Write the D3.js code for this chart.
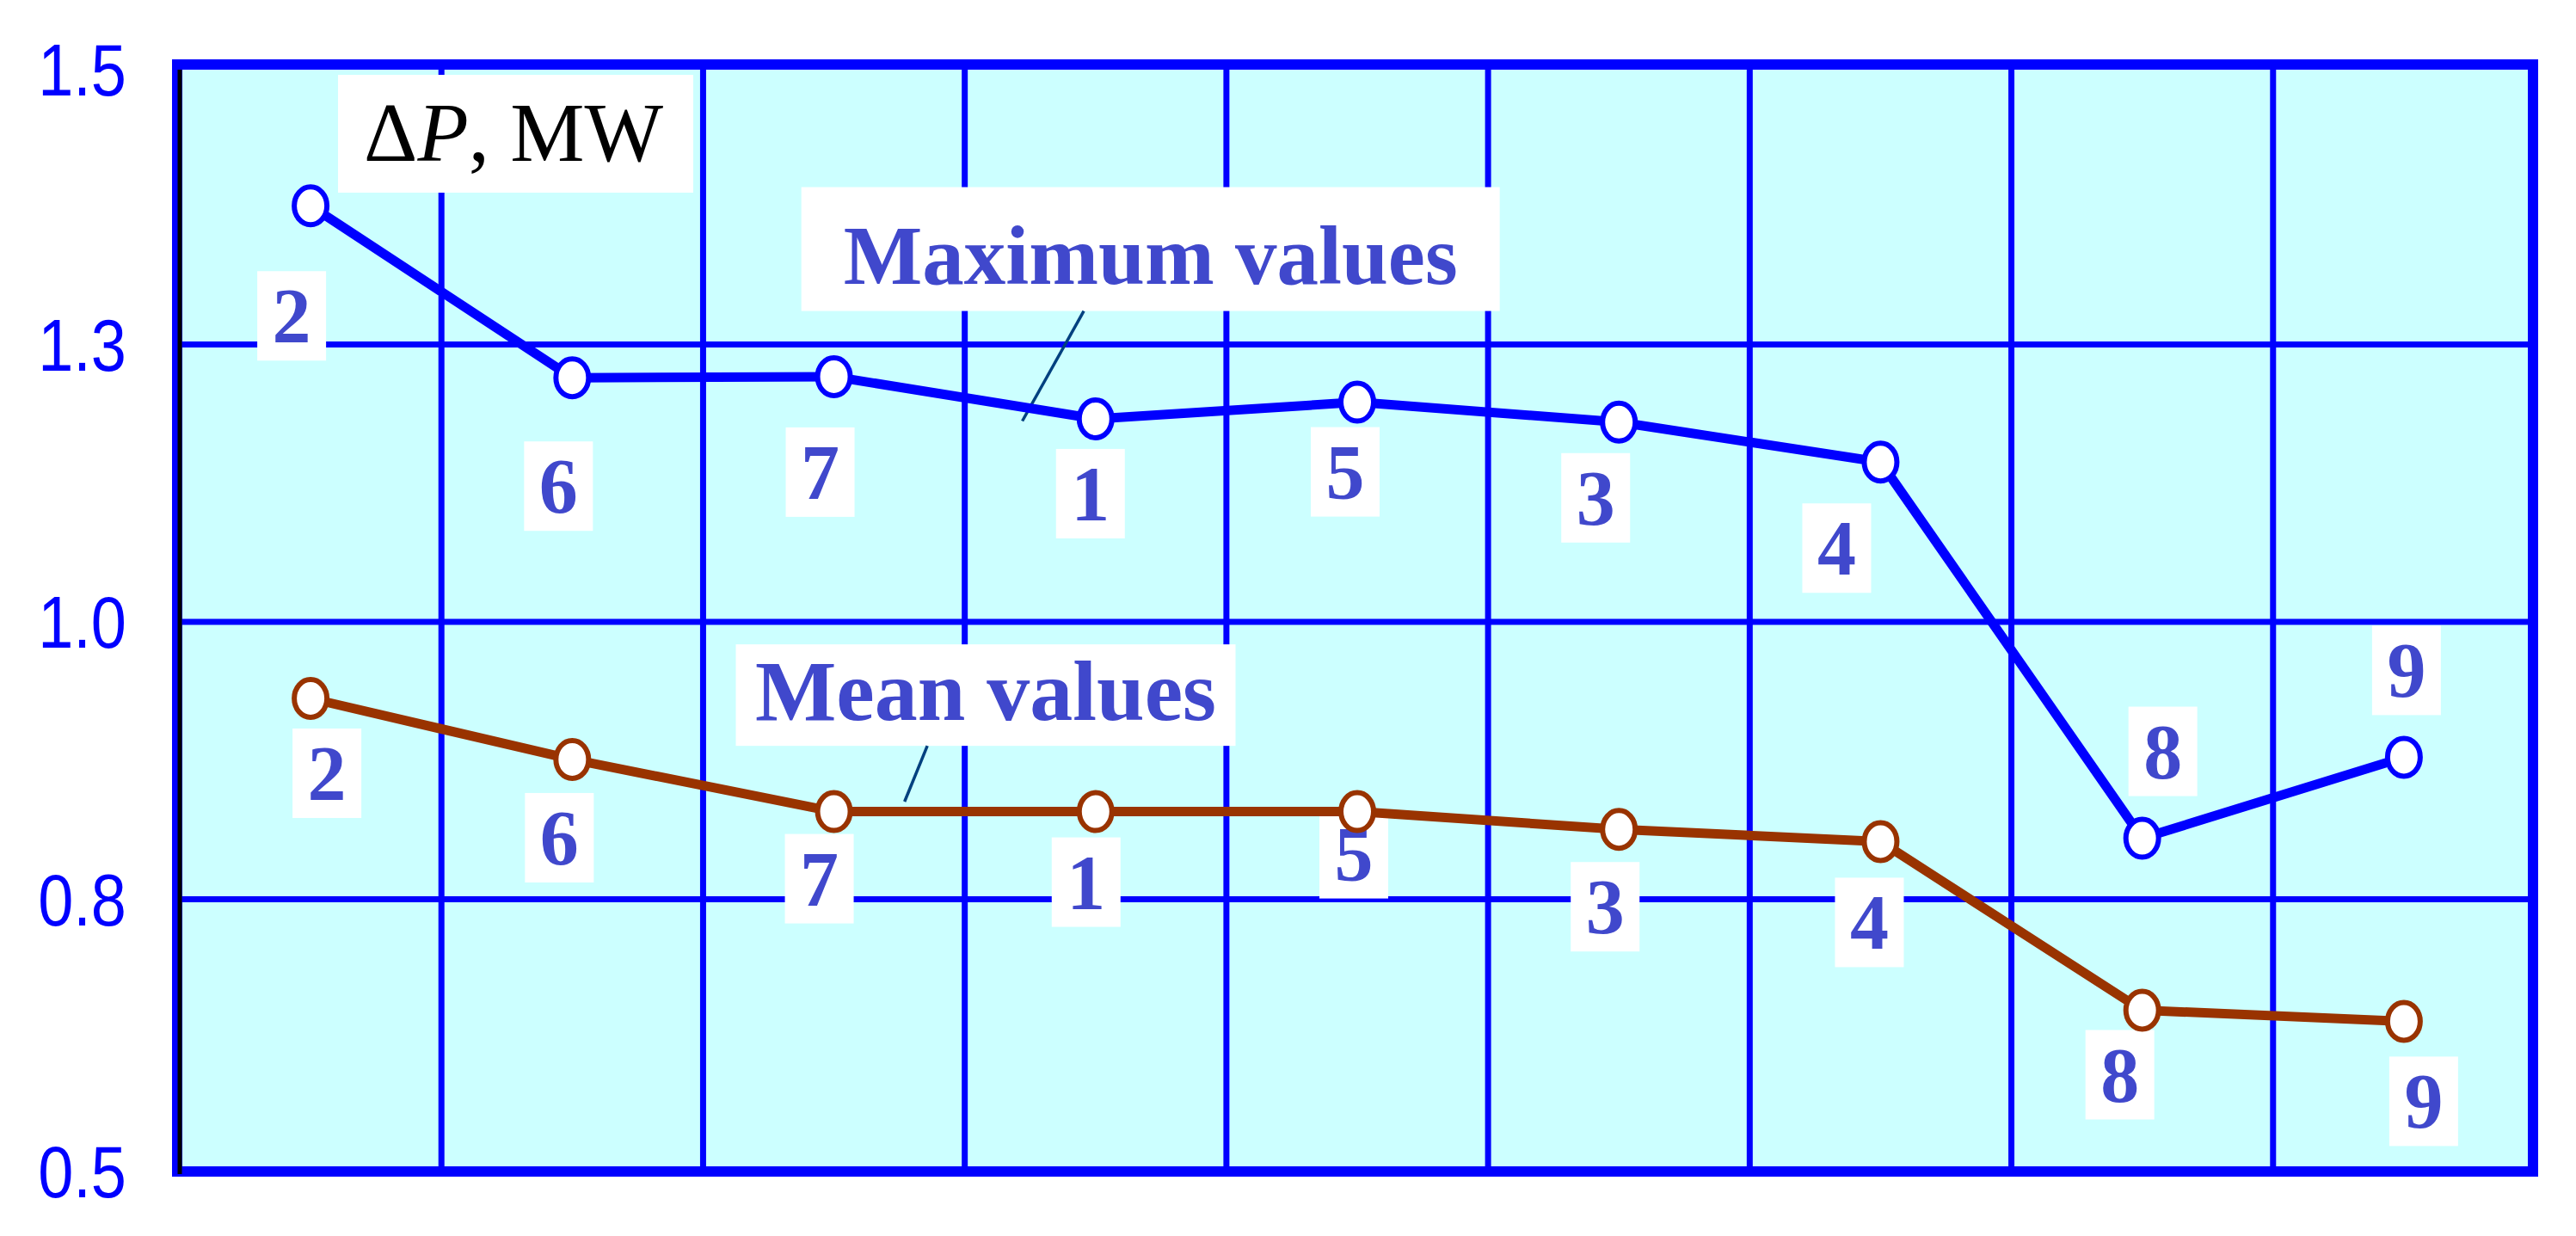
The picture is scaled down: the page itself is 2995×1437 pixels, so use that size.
<!DOCTYPE html>
<html>
<head>
<meta charset="utf-8">
<script src="https://cdn.jsdelivr.net/npm/d3@7"></script>
<style>
  body { margin: 0; background: #fff; }
</style>
</head>
<body>
<div id="chart"></div>
<script>
var w = 2995;
var h = 1437;

// point numbers, in plotting order
var points = ["2", "6", "7", "1", "5", "3", "4", "8", "9"];
// Delta P in MW
var maxValues = [1.375, 1.220, 1.221, 1.183, 1.198, 1.180, 1.144, 0.805, 0.878];
var meanValues = [0.931, 0.876, 0.829, 0.829, 0.829, 0.813, 0.802, 0.650, 0.640];
var yTicks = [0.5, 0.75, 1.0, 1.25, 1.5];
var yTickLabels = ["0.5", "0.8", "1.0", "1.3", "1.5"];
var seriesNames = ["Maximum values", "Mean values"];

// where the little number boxes sit relative to each point (px)
var maxLabelOffsets = [[-22, 128], [-16, 126], [-16, 111], [-6, 87], [-14, 81], [-27, 88], [-51, 100], [24, -101], [3, -101]];
var meanLabelOffsets = [[19, 87], [-15, 91], [-17, 78], [-11, 82], [-4, 49], [-16, 90], [-13, 94], [-26, 75], [23, 93]];

var labelColor = "#4048cc";
var serif = "'Liberation Serif', 'Times New Roman', serif";

var svg = d3.select("#chart")
    .append("svg")
    .attr("width", w)
    .attr("height", h)
    .style("display", "block");

var xScale = d3.scaleBand()
    .domain(points)
    .range([209, 2947]);

var yScale = d3.scaleLinear()
    .domain([0.5, 1.5])
    .range([1368, 78]);

function cx(i) { return xScale(points[i]) + xScale.bandwidth() / 2; }
// fractional point index -> x, for the annotations
var xIdx = d3.scaleLinear().domain([0, points.length - 1]).range([cx(0), cx(points.length - 1)]);

var frame = { left: 206, right: 2945, top: 75, bottom: 1362 };

// plot background
svg.append("rect")
    .attr("x", frame.left).attr("y", frame.top)
    .attr("width", frame.right - frame.left).attr("height", frame.bottom - frame.top)
    .attr("fill", "#ccffff");

// grid
svg.append("g").selectAll("line")
    .data(points.slice(1))
    .enter()
    .append("line")
    .attr("x1", function(d) { return xScale(d); })
    .attr("x2", function(d) { return xScale(d); })
    .attr("y1", frame.top).attr("y2", frame.bottom)
    .attr("stroke", "#0000ff")
    .attr("stroke-width", 7);

svg.append("g").selectAll("line")
    .data(yTicks.slice(1, -1))
    .enter()
    .append("line")
    .attr("x1", frame.left).attr("x2", frame.right)
    .attr("y1", function(d) { return yScale(d); })
    .attr("y2", function(d) { return yScale(d); })
    .attr("stroke", "#0000ff")
    .attr("stroke-width", 7);

// frame
svg.append("rect")
    .attr("x", frame.left).attr("y", frame.top)
    .attr("width", frame.right - frame.left).attr("height", frame.bottom - frame.top)
    .attr("fill", "none")
    .attr("stroke", "#0000ff")
    .attr("stroke-width", 12);
svg.append("line")
    .attr("x1", frame.left + 3).attr("x2", frame.left + 3)
    .attr("y1", frame.top + 6).attr("y2", frame.bottom + 3)
    .attr("stroke", "#000")
    .attr("stroke-width", 5);

// y axis (labels only)
var yAxis = d3.axisLeft(yScale)
    .tickValues(yTicks)
    .tickFormat(function(d, i) { return yTickLabels[i]; })
    .tickSize(0)
    .tickPadding(0);

var yg = svg.append("g")
    .attr("transform", "translate(147, 0)")
    .call(yAxis);
yg.select(".domain").remove();
yg.selectAll("text")
    .attr("fill", "#0000ff")
    .attr("dy", null)
    .attr("dominant-baseline", "central")
    .attr("transform", "scale(0.86, 1)")
    .style("font-family", "'Liberation Sans', sans-serif")
    .style("font-size", "86px");
yg.selectAll(".tick").attr("transform", function(d) {
    // end labels sit on the frame lines
    var y = yScale(d);
    if (d === 0.5) y = frame.bottom;
    if (d === 1.5) y = 81;
    return "translate(0," + y + ")";
});

// title box
svg.append("rect")
    .attr("x", 393).attr("y", 87)
    .attr("width", 413).attr("height", 137)
    .attr("fill", "#fff");
var title = svg.append("text")
    .attr("x", 423).attr("y", 187)
    .style("font-family", serif)
    .style("font-size", "97px")
    .attr("fill", "#000");
title.append("tspan").text("Δ");
title.append("tspan").style("font-style", "italic").text("P");
title.append("tspan").text(", MW");

// series annotations
var notes = [
    { text: seriesNames[0], size: 97, i: 3.21, v: 1.336, bw: 812, bh: 144, dy: 40, fromI: 2.955, toI: 2.72, toV: 1.181 },
    { text: seriesNames[1], size: 100, i: 2.58, v: 0.934, bw: 581, bh: 118, dy: 29, fromI: 2.357, toI: 2.27, toV: 0.838 }
];

notes.forEach(function(n) {
    var bx = xIdx(n.i), by = yScale(n.v);
    svg.append("rect")
        .attr("x", bx - n.bw / 2).attr("y", by - n.bh / 2)
        .attr("width", n.bw).attr("height", n.bh)
        .attr("fill", "#fff");
    svg.append("text")
        .attr("x", bx).attr("y", by + n.dy)
        .attr("text-anchor", "middle")
        .style("font-family", serif)
        .style("font-weight", "bold")
        .style("font-size", n.size + "px")
        .attr("fill", labelColor)
        .text(n.text);
    svg.append("line")
        .attr("x1", xIdx(n.fromI)).attr("y1", by + n.bh / 2)
        .attr("x2", xIdx(n.toI)).attr("y2", yScale(n.toV))
        .attr("stroke", "#00407f")
        .attr("stroke-width", 3.5);
});

// number labels first, so lines and markers stay on top
function drawLabels(values, offsets) {
    var lab = svg.append("g").selectAll("g")
        .data(values)
        .enter()
        .append("g")
        .attr("transform", function(d, i) {
            return "translate(" + (cx(i) + offsets[i][0]) + "," + (yScale(d) + offsets[i][1]) + ")";
        });
    lab.append("rect")
        .attr("x", -40).attr("y", -52)
        .attr("width", 80).attr("height", 104)
        .attr("fill", "#fff");
    lab.append("text")
        .attr("y", 31)
        .attr("text-anchor", "middle")
        .style("font-family", serif)
        .style("font-weight", "bold")
        .style("font-size", "90px")
        .attr("fill", labelColor)
        .text(function(d, i) { return points[i]; });
}

var line = d3.line()
    .x(function(d, i) { return cx(i); })
    .y(function(d) { return yScale(d); });

function drawSeries(values, color) {
    svg.append("path")
        .datum(values)
        .attr("fill", "none")
        .attr("stroke", color)
        .attr("stroke-width", 11)
        .attr("stroke-linejoin", "round")
        .attr("d", line);

    svg.append("g").selectAll("ellipse")
        .data(values)
        .enter()
        .append("ellipse")
        .attr("cx", function(d, i) { return cx(i); })
        .attr("cy", function(d) { return yScale(d); })
        .attr("rx", 19)
        .attr("ry", 22)
        .attr("fill", "#fff")
        .attr("stroke", color)
        .attr("stroke-width", 6);
}

drawLabels(maxValues, maxLabelOffsets);
drawLabels(meanValues, meanLabelOffsets);
drawSeries(maxValues, "#0000ff");
drawSeries(meanValues, "#993300");
</script>
</body>
</html>
